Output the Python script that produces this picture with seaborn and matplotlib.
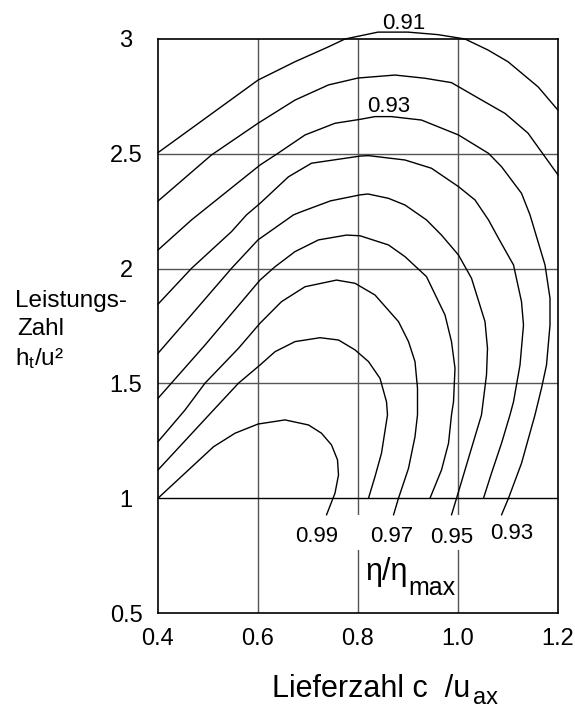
import matplotlib
matplotlib.use("Agg")
import matplotlib.pyplot as plt
from matplotlib.patches import Rectangle
import numpy as np
import pandas as pd
import seaborn as sns

# ---- data ----
c091_x = [0.400, 0.600, 0.674, 0.740, 0.774, 0.840, 0.900, 0.960, 1.014, 1.060, 1.100, 1.160, 1.200]
c091_y = [2.505, 2.821, 2.901, 2.965, 3.000, 3.030, 3.030, 3.019, 3.000, 2.952, 2.901, 2.792, 2.690]

c092_x = [0.400, 0.507, 0.600, 0.674, 0.741, 0.800, 0.874, 0.934, 0.987, 1.041, 1.094, 1.140, 1.200]
c092_y = [2.294, 2.495, 2.633, 2.734, 2.800, 2.830, 2.843, 2.829, 2.810, 2.742, 2.676, 2.590, 2.408]

c093_x = [0.400, 0.467, 0.604, 0.637, 0.694, 0.754, 0.804, 0.834, 0.867, 0.927, 1.001, 1.061,
          1.087, 1.127, 1.144, 1.174, 1.184, 1.184, 1.177, 1.167, 1.154, 1.127, 1.101, 1.087]
c093_y = [2.081, 2.212, 2.451, 2.498, 2.582, 2.633, 2.650, 2.662, 2.662, 2.647, 2.582, 2.502,
          2.444, 2.328, 2.234, 2.016, 1.871, 1.754, 1.580, 1.479, 1.363, 1.152, 1.000, 0.927]

c094_x = [0.400, 0.467, 0.547, 0.577, 0.604, 0.661, 0.707, 0.804, 0.821, 0.894, 0.947, 1.001,
          1.034, 1.061, 1.081, 1.111, 1.127, 1.131, 1.124, 1.111, 1.104, 1.087, 1.067, 1.051]
c094_y = [1.845, 2.001, 2.161, 2.234, 2.284, 2.400, 2.459, 2.490, 2.492, 2.473, 2.437, 2.357,
          2.299, 2.212, 2.132, 2.016, 1.856, 1.754, 1.580, 1.420, 1.363, 1.239, 1.109, 1.000]

c095_x = [0.400, 0.461, 0.547, 0.600, 0.671, 0.687, 0.745, 0.804, 0.820, 0.861, 0.894, 0.937,
          0.967, 1.001, 1.027, 1.054, 1.059, 1.057, 1.047, 1.024, 1.001, 0.987]
c095_y = [1.631, 1.784, 2.001, 2.125, 2.234, 2.248, 2.295, 2.321, 2.325, 2.306, 2.277, 2.212,
          2.146, 2.059, 1.958, 1.769, 1.653, 1.537, 1.363, 1.196, 1.028, 0.927]

c096_x = [0.400, 0.494, 0.604, 0.634, 0.674, 0.721, 0.777, 0.804, 0.861, 0.894, 0.937, 0.974,
          0.987, 0.994, 0.991, 0.987, 0.981, 0.967, 0.944]
c096_y = [1.435, 1.667, 1.950, 2.008, 2.074, 2.125, 2.146, 2.143, 2.103, 2.052, 1.965, 1.798,
          1.682, 1.566, 1.420, 1.363, 1.239, 1.123, 1.000]

c097_x = [0.400, 0.454, 0.494, 0.561, 0.604, 0.647, 0.694, 0.757, 0.794, 0.834, 0.881, 0.901,
          0.914, 0.919, 0.919, 0.914, 0.901, 0.881, 0.871]
c097_y = [1.246, 1.384, 1.501, 1.653, 1.762, 1.856, 1.921, 1.950, 1.936, 1.885, 1.769, 1.682,
          1.595, 1.479, 1.363, 1.268, 1.130, 1.000, 0.927]

c098_x = [0.400, 0.511, 0.561, 0.604, 0.634, 0.674, 0.724, 0.761, 0.794, 0.821, 0.844, 0.857,
          0.859, 0.847, 0.834, 0.821]
c098_y = [1.123, 1.384, 1.501, 1.580, 1.638, 1.682, 1.699, 1.689, 1.646, 1.595, 1.522, 1.420,
          1.363, 1.196, 1.094, 1.000]

c099_x = [0.400, 0.454, 0.511, 0.554, 0.600, 0.654, 0.701, 0.727, 0.747, 0.759, 0.761, 0.754, 0.737]
c099_y = [1.000, 1.109, 1.224, 1.283, 1.323, 1.341, 1.319, 1.283, 1.232, 1.167, 1.101, 1.022, 0.927]

levels = ["0.91", "0.92", "0.93", "0.94", "0.95", "0.96", "0.97", "0.98", "0.99"]
curves_x = [c091_x, c092_x, c093_x, c094_x, c095_x, c096_x, c097_x, c098_x, c099_x]
curves_y = [c091_y, c092_y, c093_y, c094_y, c095_y, c096_y, c097_y, c098_y, c099_y]

xticks = [0.4, 0.6, 0.8, 1.0, 1.2]
xtick_labels = ["0.4", "0.6", "0.8", "1.0", "1.2"]
yticks = [0.5, 1.0, 1.5, 2.0, 2.5, 3.0]
ytick_labels = ["0.5", "1", "1.5", "2", "2.5", "3"]

# curve labels: text, x, baseline y
label_texts = ["0.91", "0.93", "0.99", "0.97", "0.95", "0.93"]
label_x = [0.892, 0.861, 0.717, 0.867, 0.988, 1.107]
label_y = [3.042, 2.683, 0.811, 0.811, 0.804, 0.821]

# ---- build table ----
rows = []
for lev, xs, ys in zip(levels, curves_x, curves_y):
    for i, (xv, yv) in enumerate(zip(xs, ys)):
        rows.append({"level": lev, "order": i, "x": xv, "y": yv})
df = pd.DataFrame(rows)

sns.set_theme(style="white")
plt.rcParams["font.family"] = ["Liberation Sans", "DejaVu Sans"]
plt.rcParams["mathtext.fontset"] = "custom"
plt.rcParams["mathtext.rm"] = "Liberation Sans"
plt.rcParams["mathtext.it"] = "Liberation Sans:italic"
plt.rcParams["text.color"] = "black"
plt.rcParams["xtick.color"] = "black"
plt.rcParams["ytick.color"] = "black"

fig = plt.figure(figsize=(5.75, 7.09), dpi=100)
ax = fig.add_axes([158 / 575, 1 - 613 / 709, 400 / 575, 574 / 709])

# grid lines
for v in [0.6, 0.8, 1.0]:
    ax.axvline(v, color="#555555", lw=1.0, zorder=0.5)
for h in [1.5, 2.0, 2.5]:
    ax.axhline(h, color="#555555", lw=1.0, zorder=0.5)
ax.axhline(1.0, color="black", lw=1.0, zorder=0.5)
ax.add_patch(Rectangle((0.7, 0.774), 0.45, 0.153, facecolor="white",
                       edgecolor="none", zorder=1))

sns.lineplot(data=df, x="x", y="y", units="level", estimator=None, sort=False,
             color="black", lw=1.0, ax=ax, legend=False, zorder=2)
for ln in ax.lines:
    if ln.get_zorder() == 2:
        ln.set_clip_on(False)

ax.set_xlim(0.4, 1.2)
ax.set_ylim(0.5, 3.0)
ax.set_xticks(xticks)
ax.set_xticklabels(xtick_labels)
ax.set_yticks(yticks)
ax.set_yticklabels(ytick_labels)
ax.tick_params(axis="both", length=0, labelsize=17, colors="black")
ax.tick_params(axis="x", pad=11)
ax.tick_params(axis="y", pad=23)
for lbl in ax.get_yticklabels():
    lbl.set_horizontalalignment("center")
ax.set_xlabel("")
ax.set_ylabel("")
for sp in ax.spines.values():
    sp.set_color("black")
    sp.set_linewidth(1.2)
    sp.set_visible(True)

for t, xv, yv in zip(label_texts, label_x, label_y):
    ax.text(xv, yv, t, ha="center", va="baseline", fontsize=16,
            color="black", clip_on=False, zorder=3)

ax.text(0.814, 0.644, "η/η", ha="left", va="baseline", fontsize=22, color="black", zorder=3)
ax.text(0.900, 0.579, "max", ha="left", va="baseline", fontsize=18, color="black", zorder=3)

# y label (three lines)
fig.text(15 / 575, 1 - 306.7 / 709, "Leistungs-", fontsize=17.5, va="baseline", ha="left")
fig.text(17 / 575, 1 - 335 / 709, "Zahl", fontsize=17.5, va="baseline", ha="left")
fig.text(15 / 575, 1 - 365 / 709, r"h$_\mathregular{t}$/u²", fontsize=17.5, va="baseline", ha="left")

# x label
fig.text(271.7 / 575, 1 - 697 / 709, "Lieferzahl c  /u", fontsize=22, va="baseline", ha="left")
fig.text(473 / 575, 1 - 704 / 709, "ax", fontsize=17, va="baseline", ha="left")

fig.savefig("out.png", dpi=100)
